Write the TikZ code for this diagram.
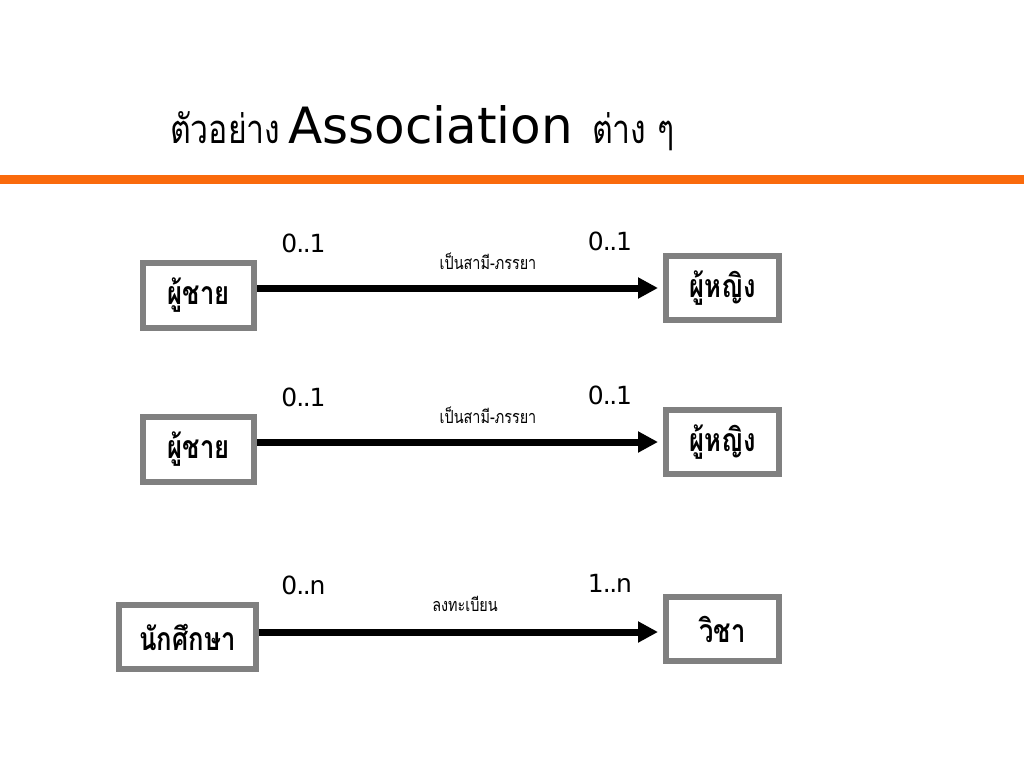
\documentclass[tikz,border=0pt]{standalone}
\usepackage{fontspec}
\setmainfont{DejaVu Sans}
\newfontfamily\thaifont[Script=Thai,FakeStretch=0.8]{Loma}
\usetikzlibrary{arrows.meta}
\definecolor{barorange}{RGB}{250,106,12}
\definecolor{boxgray}{RGB}{128,128,128}
\newcommand\twodots{\kern-1pt.\kern-1.5pt.\kern-1pt}

\begin{document}
\begin{tikzpicture}[x=1pt,y=-1pt,
    classbox/.style={draw=boxgray,line width=6pt,fill=white,inner sep=0pt,
      minimum width=113pt,minimum height=64pt,
      font=\thaifont\bfseries\fontsize{32}{32}\selectfont},
    mult/.style={anchor=base,inner sep=0pt,font=\fontsize{25}{25}\selectfont},
    rolename/.style={anchor=base,inner sep=0pt,font=\thaifont\fontsize{18}{18}\selectfont},
    assoc/.style={line width=7pt,-{Triangle[length=20pt,width=20pt]}}]
  \useasboundingbox (0,0) rectangle (1024,768);
  % title
  \node[anchor=base west,inner sep=0pt,font=\thaifont\fontsize{40}{40}\selectfont] (title1) at (170,143) {ตัวอย่าง};
  \node[anchor=base west,inner sep=0pt,font=\fontsize{50}{50}\selectfont] (title2) at (288,143) {Association};
  \node[anchor=base west,inner sep=0pt,font=\thaifont\fontsize{40}{40}\selectfont] (title3) at (592,143) {ต่าง ๆ};
  \fill[barorange] (0,175) rectangle (1024,184);
  % classes
  \node[classbox,minimum width=111pt,minimum height=65pt] (man1) at (198.5,295.5) {ผู้ชาย};
  \node[classbox] (woman1) at (722.5,288) {ผู้หญิง};
  \node[classbox,minimum width=111pt,minimum height=65pt] (man2) at (198.5,449.5) {ผู้ชาย};
  \node[classbox] (woman2) at (722.5,442) {ผู้หญิง};
  \node[classbox,minimum width=137pt] (student) at (187.5,637) {นักศึกษา};
  \node[classbox] (course) at (722.5,629) {วิชา};
  % associations
  \draw[assoc] (man1.east |- woman1.west) -- ([xshift=-5pt]woman1.west);
  \draw[assoc] (man2.east |- woman2.west) -- ([xshift=-5pt]woman2.west);
  \draw[assoc] ([yshift=-3pt]student.east |- course.west) -- ([xshift=-5pt,yshift=-3pt]course.west);
  % multiplicities and role names
  \node[mult] (m1a) at (303.5,252) {0\twodots1};
  \node[mult] (m1b) at (610,250) {0\twodots1};
  \node[rolename] (r1) at (488,269) {เป็นสามี-ภรรยา};
  \node[mult] (m2a) at (303.5,406) {0\twodots1};
  \node[mult] (m2b) at (610,404) {0\twodots1};
  \node[rolename] (r2) at (488,423) {เป็นสามี-ภรรยา};
  \node[mult] (m3a) at (303.5,594) {0\twodots n};
  \node[mult] (m3b) at (610,592) {1\twodots n};
  \node[rolename] (r3) at (465,611) {ลงทะเบียน};
\end{tikzpicture}
\end{document}
